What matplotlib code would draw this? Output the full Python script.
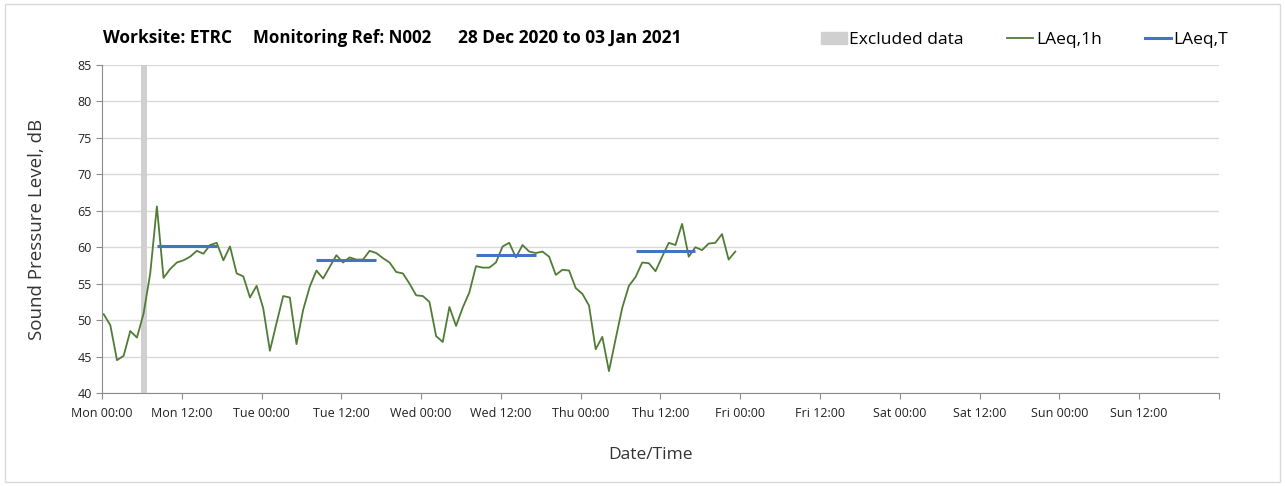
import matplotlib

matplotlib.use("Agg")
import matplotlib.pyplot as plt
from matplotlib.lines import Line2D
from matplotlib.patches import Patch, Rectangle
import numpy as np

# hourly LAeq,1h values from Mon 00:00 (one per hour)
laeq_1h = [
    50.8, 49.3, 44.5, 45.1, 48.5, 47.6, 50.9, 56.4, 65.6, 55.8, 57.0, 57.9,
    58.2, 58.7, 59.5, 59.1, 60.3, 60.6, 58.2, 60.1, 56.4, 56.0, 53.1, 54.7,
    51.6, 45.8, 49.6, 53.3, 53.1, 46.7, 51.4, 54.6, 56.8, 55.7, 57.3, 58.9,
    57.9, 58.6, 58.3, 58.3, 59.5, 59.2, 58.5, 57.9, 56.6, 56.4, 55.0, 53.4,
    53.3, 52.5, 47.8, 47.0, 51.8, 49.2, 51.7, 53.8, 57.4, 57.2, 57.2, 57.9,
    60.1, 60.6, 58.6, 60.3, 59.4, 59.2, 59.4, 58.7, 56.2, 56.9, 56.8, 54.4,
    53.6, 52.0, 46.0, 47.7, 43.0, 47.4, 51.7, 54.7, 55.9, 57.9, 57.8, 56.7,
    58.7, 60.6, 60.3, 63.2, 58.7, 60.0, 59.6, 60.5, 60.6, 61.8, 58.3, 59.4,
]
hour_offset = 0.25
# daytime LAeq,T per day (Mon..Thu), period 08:00-17:00
laeq_t = [60.2, 58.3, 58.9, 59.5]
period_start, period_end = 8, 17
excluded = (5.9, 6.8)

day_names = ["Mon", "Tue", "Wed", "Thu", "Fri", "Sat", "Sun"]
tick_labels = [f"{d} {t}" for d in day_names for t in ("00:00", "12:00")]

GREEN = "#507c36"
BLUE = "#4472c4"
GREY = "#d0d0d0"

plt.rcParams["font.family"] = ["Open Sans", "DejaVu Sans"]
fig = plt.figure(figsize=(12.85, 4.86), dpi=100)
ax = fig.add_axes([0.0794, 0.1914, 0.8692, 0.6749])

hours = np.arange(len(laeq_1h)) + hour_offset
ax.axvspan(*excluded, color=GREY, lw=0, zorder=1)
ax.plot(hours, laeq_1h, color=GREEN, lw=1.3, zorder=3)
for d, v in enumerate(laeq_t):
    x0 = d * 24 + period_start + hour_offset
    x1 = d * 24 + period_end + hour_offset
    ax.plot([x0, x1], [v, v], color=BLUE, lw=2.2, zorder=4, solid_capstyle="butt")

ax.set_xlim(0, 168)
ax.set_ylim(40, 85)
ax.set_xticks(np.arange(0, 169, 12))
ax.set_xticklabels(tick_labels + [""])
ax.set_xticks(np.arange(24, 169, 24), minor=True)
ax.set_yticks(np.arange(40, 86, 5))
ax.tick_params(axis="both", labelsize=9, color="#8c8c8c", length=4, labelcolor="#222222")
ax.tick_params(axis="x", pad=6)
ax.tick_params(axis="x", which="minor", length=0)
ax.xaxis.grid(True, which="minor", color="#d9d9d9", lw=1)
ax.yaxis.grid(True, color="#d9d9d9", lw=1)
ax.set_axisbelow(True)
for s in ("top", "right"):
    ax.spines[s].set_visible(False)
for s in ("left", "bottom"):
    ax.spines[s].set_color("#8c8c8c")

ax.set_ylabel("Sound Pressure Level, dB", fontsize=13.5, color="#333333")
ax.yaxis.set_label_coords(-0.050, 0.5)
ax.set_xlabel("Date/Time", fontsize=12.5, color="#333333")
ax.xaxis.set_label_coords(0.4915, -0.165)

fig.text(0.0802, 0.922, "Worksite: ETRC", fontsize=12.5, fontweight="bold", va="center")
fig.text(0.1969, 0.922, "Monitoring Ref: N002", fontsize=12.2, fontweight="bold", va="center")
fig.text(0.3564, 0.922, "28 Dec 2020 to 03 Jan 2021", fontsize=12.5, fontweight="bold", va="center")

handles = [Patch(color=GREY), Line2D([], [], color=GREEN, lw=1.3), Line2D([], [], color=BLUE, lw=2.2)]
fig.legend(handles, ["Excluded data", "LAeq,1h", "LAeq,T"], ncol=3, frameon=False,
           loc="center right", bbox_to_anchor=(0.968, 0.918), fontsize=12.5,
           handlelength=1.5, handletextpad=0.15, columnspacing=2.5)

fig.add_artist(Rectangle((0.004, 0.008), 0.992, 0.984, transform=fig.transFigure,
                         fill=False, edgecolor="#d9d9d9", lw=1))

fig.savefig("out.png", dpi=100)
